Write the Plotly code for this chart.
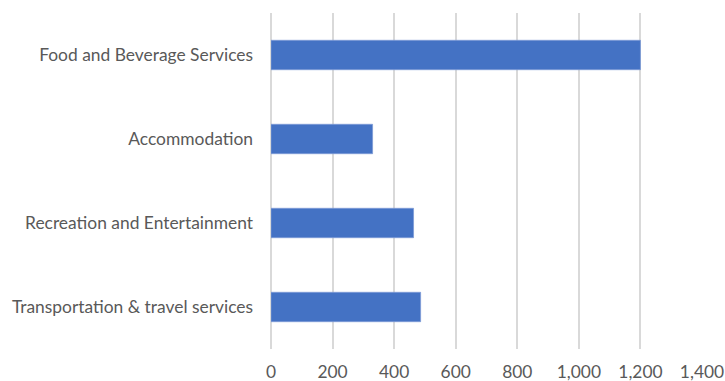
import plotly.graph_objects as go

# Spending by category
categories = [
    "Food and Beverage Services",
    "Accommodation",
    "Recreation and Entertainment",
    "Transportation & travel services",
]
values = [1200, 330, 463, 486]
x_ticks = [0, 200, 400, 600, 800, 1000, 1200, 1400]
x_tick_labels = ["0", "200", "400", "600", "800", "1,000", "1,200", "1,400"]

font_family = "Lato, Calibri, Carlito, sans-serif"
text_color = "#595959"
grid_color = "#d9d9d9"

fig = go.Figure(
    go.Bar(
        x=values,
        y=categories,
        orientation="h",
        marker=dict(color="#4472C4", line=dict(color="#7c9bd6", width=0.8)),
        width=0.35,
        hoverinfo="x+y",
    )
)

fig.update_layout(
    width=725,
    height=381,
    margin=dict(l=271, r=23, t=13, b=32),
    paper_bgcolor="white",
    plot_bgcolor="white",
    font=dict(family=font_family, size=17.4, color=text_color),
    showlegend=False,
    xaxis=dict(
        range=[0, 1400],
        tickvals=x_ticks,
        ticktext=x_tick_labels,
        showgrid=True,
        gridcolor=grid_color,
        gridwidth=1.5,
        zeroline=True,
        zerolinecolor=grid_color,
        zerolinewidth=1.5,
        showline=False,
        ticks="",
        ticklabelstandoff=11,
        automargin=False,
        fixedrange=True,
    ),
    yaxis=dict(
        categoryorder="array",
        categoryarray=list(reversed(categories)),
        showgrid=False,
        zeroline=False,
        showline=False,
        ticks="",
        ticklabelstandoff=17,
        automargin=False,
        fixedrange=True,
    ),
)

fig.write_html("out.html")
